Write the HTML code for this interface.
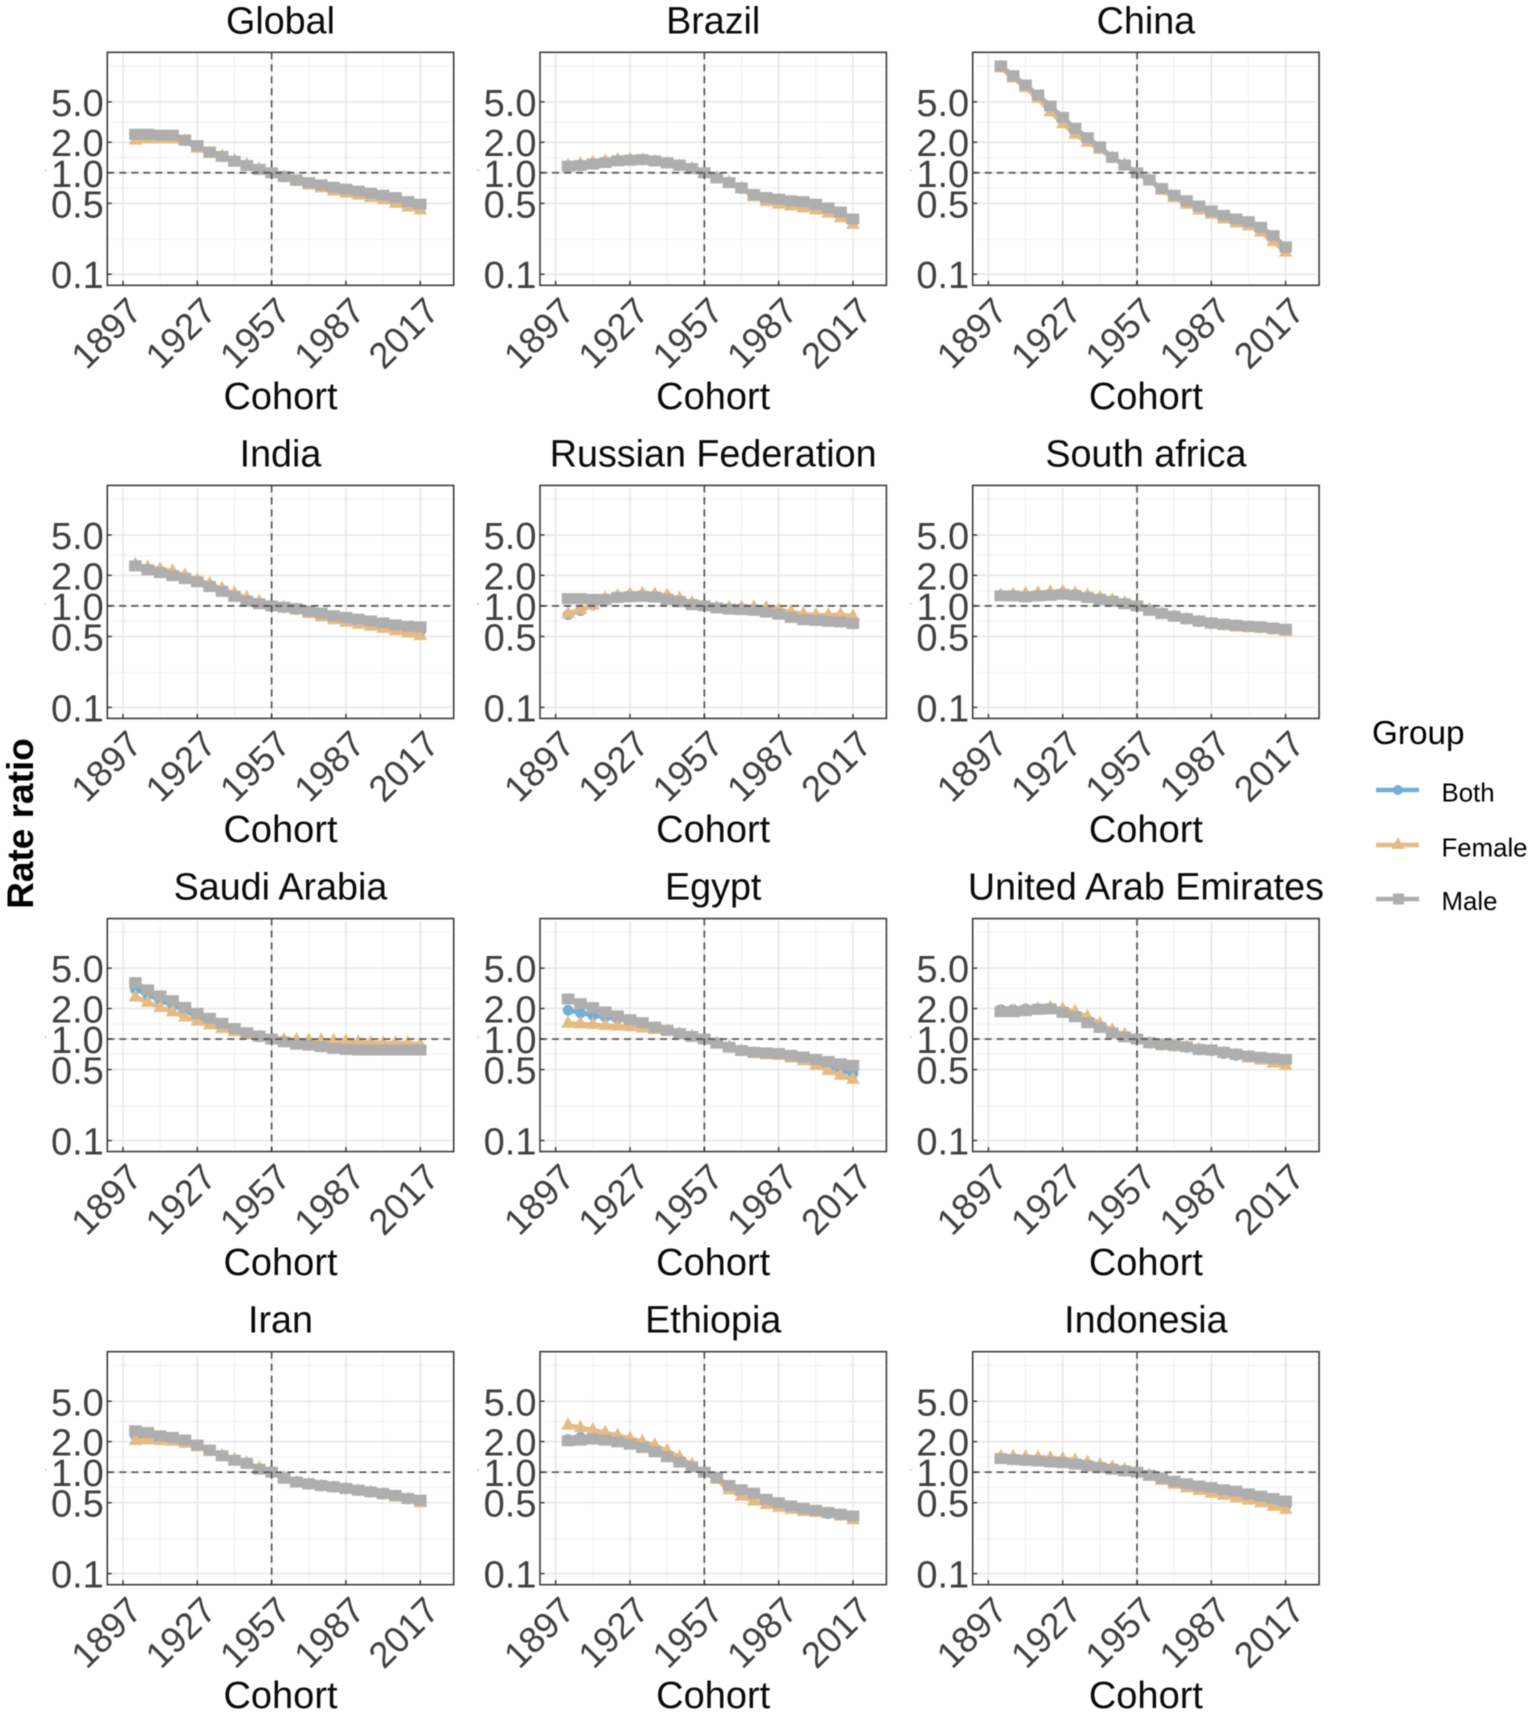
<!DOCTYPE html>
<html lang="en">
<head>
<meta charset="utf-8">
<title>Cohort rate ratios by location</title>
<style>
  html, body { margin: 0; padding: 0; background: #fff; }
  #figure { display: block; filter: blur(0.45px); font-family: "Liberation Sans", Arial, sans-serif; }
</style>
</head>
<body>
<svg id="figure" xmlns="http://www.w3.org/2000/svg" width="1535" height="1716" viewBox="0 0 1535 1716">
  <rect x="0" y="0" width="1535" height="1716" fill="#ffffff"/>
  <g id="panels"></g>
  <text transform="translate(33,823.5) rotate(-90)" text-anchor="middle" font-size="37" font-weight="bold" fill="#000">Rate ratio</text>
  <g>
    <text x="1372" y="744" font-size="33.3" fill="#000">Group</text>
    <g>
      <line x1="1376" x2="1419" y1="790" y2="790" stroke="#74aed6" stroke-width="4.5"/>
      <circle cx="1398" cy="790" r="5" fill="#74aed6"/>
      <text x="1441.5" y="801.5" font-size="25.8" fill="#000">Both</text>
    </g>
    <g>
      <line x1="1376" x2="1419" y1="845" y2="845" stroke="#e5bb85" stroke-width="4.5"/>
      <polygon points="1398,837 1404.5,849 1391.5,849" fill="#e5bb85"/>
      <text x="1441.5" y="856.5" font-size="25.8" fill="#000">Female</text>
    </g>
    <g>
      <line x1="1376" x2="1419" y1="899" y2="899" stroke="#aeaeae" stroke-width="4.5"/>
      <rect x="1393" y="893.5" width="11" height="11" fill="#aeaeae"/>
      <text x="1441.5" y="910" font-size="25.8" fill="#000">Male</text>
    </g>
  </g>
</svg>
<script>
// ---- categories and tick labels ----
const cohorts = [1902,1907,1912,1917,1922,1927,1932,1937,1942,1947,1952,1957,1962,1967,1972,1977,1982,1987,1992,1997,2002,2007,2012,2017];
const xTickLabels = [1897,1927,1957,1987,2017];
const xMinorTicks = [1912,1942,1972,2002];
const yTickLabels = ["0.1","0.5","1.0","2.0","5.0"];
const yMinorTicks = [0.22,0.71,1.41,3.16,11.3];
const countries = ["Global","Brazil","China","India","Russian Federation","South africa","Saudi Arabia","Egypt","United Arab Emirates","Iran","Ethiopia","Indonesia"];

// ---- series values (rate ratio) ----
const globalBoth = [2.3,2.3,2.28,2.25,2.08,1.8,1.58,1.45,1.3,1.19,1.08,1,.91,.84,.78,.74,.7,.67,.64,.61,.58,.54,.5,.46];
const globalFemale = [2.1,2.15,2.15,2.15,2.05,1.75,1.55,1.45,1.32,1.2,1.08,1,.9,.82,.76,.71,.66,.63,.6,.57,.54,.5,.46,.43];
const globalMale = [2.4,2.4,2.35,2.35,2.1,1.85,1.6,1.45,1.3,1.18,1.08,1,.92,.85,.8,.76,.72,.69,.66,.63,.6,.57,.52,.49];

const brazilBoth = [1.17,1.2,1.24,1.28,1.32,1.34,1.34,1.3,1.24,1.18,1.1,1,.89,.8,.7,.6,.55,.52,.5,.49,.46,.43,.39,.33];
const brazilFemale = [1.18,1.22,1.26,1.3,1.34,1.36,1.33,1.28,1.22,1.16,1.1,1,.89,.8,.7,.58,.52,.49,.47,.45,.43,.4,.36,.31];
const brazilMale = [1.16,1.18,1.22,1.26,1.31,1.33,1.35,1.31,1.26,1.19,1.1,1,.89,.8,.71,.61,.57,.55,.53,.52,.49,.45,.41,.35];

const chinaBoth = [11,8.8,7.1,5.6,4.25,3.3,2.55,2.1,1.75,1.41,1.2,1,.85,.69,.59,.51,.45,.41,.37,.34,.32,.28,.23,.175];
const chinaFemale = [10.8,8.6,6.9,5.4,4,3.05,2.4,2,1.7,1.4,1.2,1,.84,.67,.57,.49,.43,.39,.35,.32,.3,.26,.21,.165];
const chinaMale = [11.3,9.06,7.33,5.84,4.55,3.52,2.74,2.22,1.8,1.42,1.19,1,.85,.7,.6,.53,.47,.42,.38,.35,.33,.29,.24,.186];

const indiaBoth = [2.5,2.32,2.2,2.08,1.92,1.76,1.6,1.43,1.28,1.15,1.07,1,.96,.92,.86,.81,.76,.73,.7,.67,.64,.61,.58,.56];
const indiaFemale = [2.55,2.4,2.3,2.2,2,1.8,1.65,1.48,1.33,1.2,1.1,1,.96,.91,.84,.78,.73,.69,.66,.63,.6,.57,.54,.51];
const indiaMale = [2.48,2.27,2.13,1.99,1.86,1.73,1.55,1.39,1.24,1.11,1.05,1,.97,.94,.89,.85,.8,.77,.74,.71,.68,.65,.63,.62];

const russiaBoth = [.82,.9,1.02,1.15,1.24,1.27,1.28,1.26,1.22,1.14,1.05,1,.96,.94,.94,.93,.91,.88,.82,.78,.76,.75,.75,.73];
const russiaFemale = [.84,.92,1.02,1.18,1.25,1.3,1.32,1.3,1.27,1.18,1.07,1,.96,.96,.97,.97,.96,.92,.87,.83,.81,.81,.82,.79];
const russiaMale = [1.18,1.18,1.16,1.16,1.21,1.23,1.24,1.22,1.16,1.1,1.03,1,.955,.93,.92,.905,.87,.83,.77,.73,.72,.705,.695,.67];

const southAfricaBoth = [1.26,1.27,1.27,1.29,1.31,1.33,1.3,1.24,1.18,1.12,1.06,1,.91,.84,.785,.74,.7,.67,.65,.63,.62,.61,.59,.57];
const southAfricaFemale = [1.27,1.29,1.32,1.34,1.37,1.38,1.33,1.27,1.2,1.14,1.07,1,.92,.84,.78,.73,.69,.66,.64,.62,.61,.6,.58,.56];
const southAfricaMale = [1.255,1.255,1.23,1.255,1.27,1.3,1.27,1.21,1.16,1.11,1.05,1,.905,.84,.79,.75,.71,.68,.66,.645,.63,.62,.605,.59];

const saudiBoth = [3.1,2.75,2.4,2.15,1.9,1.68,1.5,1.36,1.22,1.12,1.05,1,.96,.93,.92,.9,.88,.87,.86,.85,.84,.84,.84,.82];
const saudiFemale = [2.6,2.3,2.05,1.85,1.65,1.5,1.38,1.27,1.18,1.1,1.04,1,.98,.98,.97,.97,.96,.95,.93,.92,.91,.91,.91,.88];
const saudiMale = [3.6,3.05,2.66,2.39,2.05,1.79,1.6,1.43,1.27,1.155,1.07,1,.94,.89,.87,.84,.81,.79,.78,.78,.78,.78,.78,.78];

const egyptBoth = [1.92,1.81,1.71,1.65,1.59,1.5,1.42,1.31,1.22,1.13,1.06,1,.91,.83,.77,.74,.72,.71,.68,.64,.6,.55,.49,.46];
const egyptFemale = [1.43,1.41,1.39,1.36,1.34,1.32,1.28,1.24,1.19,1.12,1.06,1,.91,.83,.76,.72,.7,.69,.65,.61,.55,.49,.44,.4];
const egyptMale = [2.48,2.23,2.04,1.85,1.69,1.55,1.45,1.31,1.22,1.13,1.06,1,.91,.83,.77,.74,.73,.72,.69,.665,.63,.6,.57,.55];

const uaeBoth = [1.95,1.95,1.98,2,2.02,1.9,1.72,1.5,1.33,1.17,1.06,1,.91,.87,.85,.83,.78,.77,.72,.69,.67,.64,.62,.6];
const uaeFemale = [1.86,1.88,1.92,1.98,2.04,1.96,1.86,1.65,1.42,1.22,1.1,1,.9,.86,.84,.83,.79,.77,.72,.69,.65,.62,.58,.55];
const uaeMale = [1.86,1.86,1.9,1.96,1.98,1.83,1.66,1.45,1.3,1.15,1.05,1,.92,.89,.87,.84,.79,.78,.74,.71,.68,.66,.645,.63];

const iranBoth = [2.3,2.28,2.17,2.12,2,1.82,1.63,1.45,1.32,1.22,1.08,1,.875,.8,.76,.73,.71,.685,.66,.635,.61,.58,.545,.515];
const iranFemale = [2.05,2.08,2.05,2.02,1.92,1.78,1.6,1.45,1.33,1.22,1.1,1,.88,.79,.75,.72,.7,.68,.65,.63,.6,.57,.54,.5];
const iranMale = [2.56,2.46,2.28,2.2,2.07,1.85,1.65,1.45,1.31,1.22,1.07,1,.87,.8,.77,.74,.72,.69,.665,.64,.615,.59,.55,.53];

const ethiopiaBoth = [2.1,2.2,2.25,2.15,2.05,1.92,1.8,1.62,1.44,1.27,1.14,1,.88,.73,.65,.6,.53,.49,.46,.43,.41,.39,.375,.36];
const ethiopiaFemale = [2.9,2.75,2.6,2.45,2.3,2.15,2,1.83,1.62,1.4,1.18,1,.85,.67,.58,.52,.48,.45,.43,.41,.4,.39,.37,.34];
const ethiopiaMale = [2.04,2.07,2.12,2.07,1.99,1.89,1.75,1.59,1.42,1.26,1.13,1,.885,.74,.67,.62,.54,.5,.465,.44,.42,.4,.385,.37];

const indonesiaBoth = [1.38,1.36,1.34,1.33,1.3,1.27,1.23,1.18,1.13,1.08,1.03,1,.93,.86,.8,.75,.7,.67,.63,.6,.56,.53,.49,.46];
const indonesiaFemale = [1.42,1.42,1.41,1.4,1.38,1.35,1.31,1.25,1.18,1.12,1.06,1,.92,.83,.76,.7,.66,.62,.59,.56,.53,.5,.46,.43];
const indonesiaMale = [1.36,1.33,1.31,1.29,1.26,1.24,1.2,1.155,1.11,1.07,1.03,1,.93,.87,.815,.77,.73,.705,.67,.65,.61,.58,.55,.52];

const bothSeries = [globalBoth,brazilBoth,chinaBoth,indiaBoth,russiaBoth,southAfricaBoth,saudiBoth,egyptBoth,uaeBoth,iranBoth,ethiopiaBoth,indonesiaBoth];
const femaleSeries = [globalFemale,brazilFemale,chinaFemale,indiaFemale,russiaFemale,southAfricaFemale,saudiFemale,egyptFemale,uaeFemale,iranFemale,ethiopiaFemale,indonesiaFemale];
const maleSeries = [globalMale,brazilMale,chinaMale,indiaMale,russiaMale,southAfricaMale,saudiMale,egyptMale,uaeMale,iranMale,ethiopiaMale,indonesiaMale];

// ---- layout and scales ----
const NS = 'http://www.w3.org/2000/svg';
const panelW = 346.4, panelH = 233;
const firstLeft = 107.3, stepX = 432.7, firstTop = 52.3, stepY = 433.13;
const xMin = 1890.66, xMax = 2030.5, yMin = 0.0778, yMax = 15.4;
const COLOR_BOTH = '#74aed6', COLOR_FEMALE = '#e5bb85', COLOR_MALE = '#aeaeae';

function xScale(year, left) {
  return left + panelW * (year - xMin) / (xMax - xMin);
}
function yScale(value, top) {
  return top + panelH * (Math.log10(yMax) - Math.log10(value)) / (Math.log10(yMax) - Math.log10(yMin));
}
function make(tag, parent, attrs) {
  const el = document.createElementNS(NS, tag);
  for (const k in attrs) el.setAttribute(k, attrs[k]);
  parent.appendChild(el);
  return el;
}

function drawSeries(g, values, left, top, color, kind) {
  const pts = values.map(function (v, i) {
    return [xScale(cohorts[i], left), yScale(v, top)];
  });
  const line = make('polyline', g, {
    points: pts.map(function (p) { return p[0].toFixed(2) + ',' + p[1].toFixed(2); }).join(' '),
    fill: 'none', stroke: color, 'stroke-width': 4.6, 'stroke-linejoin': 'round'
  });
  
  
  pts.forEach(function (p) {
    let m;
    if (kind === 'both') {
      m = make('circle', g, { cx: p[0], cy: p[1], r: 5.4, fill: color });
    } else if (kind === 'female') {
      const pointsAttr = p[0] + ',' + (p[1] - 8) + ' ' + (p[0] + 6.8) + ',' + (p[1] + 4.5) + ' ' + (p[0] - 6.8) + ',' + (p[1] + 4.5);
      m = make('polygon', g, { points: pointsAttr, fill: color });
    } else {
      m = make('rect', g, { x: p[0] - 6.3, y: p[1] - 5.5, width: 12.6, height: 11, fill: color });
    }
    
    
  });
}

function drawPanel(root, index) {
  const col = index % 3;
  const row = Math.floor(index / 3);
  const left = firstLeft + col * stepX;
  const top = firstTop + row * stepY;
  const right = left + panelW;
  const bottom = top + panelH;
  const slug = countries[index].toLowerCase().replace(/\s+/g, '-');

  const g = make('g', root, {});
  
  

  // minor gridlines
  yMinorTicks.forEach(function (v) {
    const y = yScale(v, top);
    const el = make('line', g, { x1: left + 2.5, x2: right - 2.5, y1: y, y2: y, stroke: '#f0f0f0', 'stroke-width': 1 });
    
    
  });
  xMinorTicks.forEach(function (t) {
    const x = xScale(t, left);
    const el = make('line', g, { x1: x, x2: x, y1: top + 2.5, y2: bottom - 2.5, stroke: '#f0f0f0', 'stroke-width': 1 });
    
    
  });
  // major gridlines
  yTickLabels.forEach(function (lab) {
    const y = yScale(parseFloat(lab), top);
    const el = make('line', g, { x1: left + 2.5, x2: right - 2.5, y1: y, y2: y, stroke: '#e6e6e6', 'stroke-width': 1.5 });
    
    
  });
  xTickLabels.forEach(function (t) {
    const x = xScale(t, left);
    const el = make('line', g, { x1: x, x2: x, y1: top + 2.5, y2: bottom - 2.5, stroke: '#e6e6e6', 'stroke-width': 1.5 });
    
    
  });

  // series, male on top
  const gBoth = make('g', g, {});
  
  
  drawSeries(gBoth, bothSeries[index], left, top, COLOR_BOTH, 'both');
  const gFemale = make('g', g, {});
  
  
  drawSeries(gFemale, femaleSeries[index], left, top, COLOR_FEMALE, 'female');
  const gMale = make('g', g, {});
  
  
  drawSeries(gMale, maleSeries[index], left, top, COLOR_MALE, 'male');

  // reference lines
  const refY = yScale(1, top);
  const refX = xScale(1957, left);
  const hRef = make('line', g, { x1: left, x2: right, y1: refY, y2: refY, stroke: '#555555', 'stroke-width': 1.7, 'stroke-dasharray': '7 5' });
  
  
  const vRef = make('line', g, { x1: refX, x2: refX, y1: top, y2: bottom, stroke: '#555555', 'stroke-width': 1.7, 'stroke-dasharray': '7 5' });
  
  

  // panel border
  const border = make('rect', g, { x: left, y: top, width: panelW, height: panelH, fill: 'none', stroke: '#3c3c3c', 'stroke-width': 1.6 });
  
  

  // y ticks and labels
  yTickLabels.forEach(function (lab) {
    const y = yScale(parseFloat(lab), top);
    const tick = make('line', g, { x1: left, x2: left + 4.5, y1: y, y2: y, stroke: '#333', 'stroke-width': 1.4 });
    
    
    const txt = make('text', g, { x: left - 3.5, y: y + 14, 'text-anchor': 'end', 'font-size': 38, fill: '#404040' });
    txt.textContent = lab;
    
    
  });

  // x ticks and labels
  xTickLabels.forEach(function (t) {
    const x = xScale(t, left);
    const tick = make('line', g, { x1: x, x2: x, y1: bottom - 4.5, y2: bottom, stroke: '#333', 'stroke-width': 1.4 });
    
    
    const txt = make('text', g, {
      transform: 'translate(' + (x + 21) + ',' + (bottom + 28) + ') rotate(-45)',
      'text-anchor': 'end', 'font-size': 36.5, fill: '#404040'
    });
    txt.textContent = String(t);
    
    
  });

  // stray mark left of the axis labels
  const stray = make('rect', g, { x: left - 62.5, y: refY - 3, width: 1.5, height: 1.5, fill: '#b5b5b5' });
  
  

  // titles
  const title = make('text', g, { x: left + panelW / 2, y: top - 19, 'text-anchor': 'middle', 'font-size': 37.7, fill: '#0a0a0a' });
  title.textContent = countries[index];
  
  
  const xTitle = make('text', g, { x: left + panelW / 2, y: bottom + 123.5, 'text-anchor': 'middle', 'font-size': 38, fill: '#0a0a0a' });
  xTitle.textContent = 'Cohort';
  
  
}

const panelsRoot = document.getElementById('panels');
countries.forEach(function (name, i) { drawPanel(panelsRoot, i); });
</script>
</body>
</html>
